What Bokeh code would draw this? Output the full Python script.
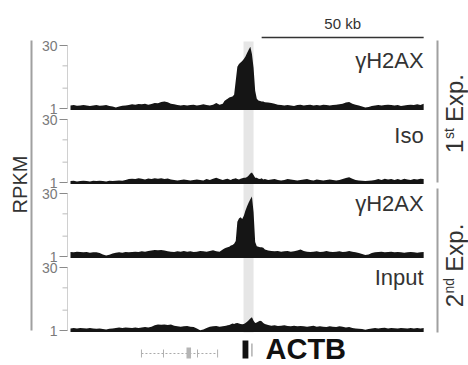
import math
import numpy as np
from bokeh.plotting import figure
from bokeh.models import Range1d, LogScale
from bokeh.core.properties import value
from bokeh.embed import file_html
from bokeh.resources import INLINE

# ---------------- data ----------------
# genomic bin positions (kb from left edge of window); finer bins around the ACTB peak
left_kb = list(range(0, 48))
peak_kb = [47.5 + 0.5 * i for i in range(26)]
right_kb = list(range(61, 110))
pos_kb = left_kb + peak_kb + right_kb

track_names = ["\u03b3H2AX", "Iso", "\u03b3H2AX", "Input"]
experiments = [("1", "st", "Exp."), ("2", "nd", "Exp.")]

# RPKM signal, exp 1 gammaH2AX
h2ax1_left = [1.18, 1.2, 1.16, 1.18, 1.2, 1.17, 1.15, 1.18, 1.2, 1.16,
              1.18, 1.2, 1.15, 1.12, 1.06, 1.12, 1.16, 1.18, 1.2, 1.25,
              1.22, 1.28, 1.25, 1.3, 1.22, 1.28, 1.35, 1.32, 1.42, 1.45,
              1.4, 1.3, 1.25, 1.2, 1.18, 1.2, 1.17, 1.2, 1.22, 1.18,
              1.2, 1.25, 1.2, 1.18, 1.22, 1.35, 1.22, 1.3]
h2ax1_peak = [1.5, 1.6, 1.7, 1.8, 1.85, 1.9, 2.1, 4.5, 9.5, 11, 12, 13, 14.5,
              16.5, 20, 24, 28, 19, 9, 2.6, 1.7, 1.55, 1.5, 1.45, 1.45, 1.4]
h2ax1_right = [1.38, 1.35, 1.3, 1.22, 1.2, 1.18, 1.2, 1.18, 1.15, 1.2,
               1.22, 1.18, 1.2, 1.22, 1.18, 1.2, 1.18, 1.22, 1.2, 1.18,
               1.2, 1.22, 1.25, 1.3, 1.38, 1.42, 1.3, 1.22, 1.18, 1.12,
               1.06, 1.08, 1.15, 1.18, 1.2, 1.18, 1.2, 1.22, 1.2, 1.18,
               1.2, 1.15, 1.18, 1.2, 1.22, 1.2, 1.25, 1.2, 1.3]

# exp 1 isotype control
iso_left = [1.08, 1.1, 1.06, 1.08, 1.1, 1.08, 1.06, 1.1, 1.08, 1.1,
            1.08, 1.06, 1.1, 1.08, 1.1, 1.12, 1.1, 1.15, 1.2, 1.22,
            1.2, 1.25, 1.22, 1.18, 1.24, 1.2, 1.26, 1.22, 1.25, 1.2,
            1.24, 1.18, 1.15, 1.12, 1.15, 1.18, 1.15, 1.12, 1.15, 1.18,
            1.15, 1.12, 1.2, 1.15, 1.22, 1.3, 1.2, 1.15]
iso_peak = [1.18, 1.2, 1.22, 1.18, 1.15, 1.2, 1.22, 1.25, 1.2, 1.18, 1.22, 1.25, 1.3,
            1.3, 1.35, 1.45, 1.62, 1.72, 1.5, 1.3, 1.3, 1.22, 1.2, 1.25, 1.18, 1.2]
iso_right = [1.15, 1.18, 1.2, 1.15, 1.12, 1.15, 1.2, 1.18, 1.15, 1.12,
             1.15, 1.18, 1.2, 1.15, 1.12, 1.18, 1.15, 1.12, 1.15, 1.18,
             1.15, 1.12, 1.15, 1.2, 1.28, 1.32, 1.22, 1.15, 1.12, 1.1,
             1.08, 1.1, 1.12, 1.15, 1.2, 1.15, 1.22, 1.18, 1.2, 1.15,
             1.2, 1.15, 1.22, 1.18, 1.15, 1.2, 1.18, 1.22, 1.2]

# exp 2 gammaH2AX
h2ax2_left = [1.28, 1.25, 1.3, 1.27, 1.25, 1.28, 1.22, 1.26, 1.25, 1.2,
              1.12, 1.06, 1.1, 1.18, 1.22, 1.25, 1.22, 1.28, 1.25, 1.27,
              1.3, 1.28, 1.32, 1.3, 1.35, 1.38, 1.42, 1.4, 1.42, 1.38,
              1.32, 1.3, 1.28, 1.32, 1.3, 1.35, 1.3, 1.32, 1.28, 1.3,
              1.35, 1.32, 1.3, 1.35, 1.4, 1.32, 1.3, 1.45]
h2ax2_peak = [1.55, 1.6, 1.65, 1.7, 1.8, 1.85, 2.0, 2.3, 6.5, 7.8, 8.3, 7.6, 9.0,
              12, 15, 18.5, 22, 25.5, 11, 2.2, 1.75, 1.7, 1.65, 1.65, 1.6, 1.45]
h2ax2_right = [1.38, 1.35, 1.32, 1.35, 1.3, 1.32, 1.35, 1.3, 1.32, 1.38,
               1.45, 1.35, 1.3, 1.28, 1.3, 1.32, 1.28, 1.3, 1.35, 1.3,
               1.28, 1.3, 1.32, 1.28, 1.3, 1.35, 1.3, 1.25, 1.2, 1.15,
               1.08, 1.12, 1.2, 1.25, 1.28, 1.3, 1.25, 1.28, 1.3, 1.26,
               1.28, 1.25, 1.22, 1.25, 1.28, 1.25, 1.22, 1.25, 1.28]

# exp 2 input
input_left = [1.12, 1.14, 1.12, 1.15, 1.13, 1.12, 1.14, 1.12, 1.1, 1.12,
              1.08, 1.06, 1.1, 1.12, 1.15, 1.17, 1.15, 1.18, 1.16, 1.15,
              1.18, 1.15, 1.17, 1.2, 1.18, 1.22, 1.32, 1.38, 1.36, 1.38,
              1.35, 1.38, 1.3, 1.25, 1.22, 1.25, 1.28, 1.22, 1.2, 1.12,
              1.02, 1.05, 1.15, 1.22, 1.25, 1.28, 1.22, 1.25]
input_peak = [1.28, 1.3, 1.32, 1.35, 1.4, 1.45, 1.42, 1.48, 1.5, 1.45, 1.42, 1.4, 1.42,
              1.5, 1.6, 1.75, 1.9, 2.05, 1.7, 1.5, 1.55, 1.62, 1.7, 1.65, 1.5, 1.42]
input_right = [1.35, 1.3, 1.32, 1.28, 1.3, 1.32, 1.28, 1.25, 1.3, 1.25,
               1.28, 1.25, 1.22, 1.25, 1.3, 1.22, 1.25, 1.22, 1.2, 1.25,
               1.22, 1.2, 1.25, 1.22, 1.18, 1.2, 1.15, 1.12, 1.1, 1.08,
               1.04, 1.08, 1.12, 1.15, 1.12, 1.14, 1.16, 1.12, 1.15, 1.13,
               1.12, 1.15, 1.13, 1.12, 1.15, 1.12, 1.14, 1.12, 1.15]

signals = [h2ax1_left + h2ax1_peak + h2ax1_right,
           iso_left + iso_peak + iso_right,
           h2ax2_left + h2ax2_peak + h2ax2_right,
           input_left + input_peak + input_right]

y_ticks = [1, 3, 10, 30]
y_tick_labels = ["1", "", "", "30"]
y_max = 30
fill_floor = 0.92

highlight_kb = (53.4, 56.5)      # shaded ACTB region
scale_bar_kb = 50
window_end_kb = 109

actb_exon_kb = (53.1, 54.9)
actb_tick_kb = 56.0
neighbor_span_kb = (21.9, 45.4)
neighbor_ticks_kb = [21.9, 28.7, 39.2, 45.4]
neighbor_box_kb = (35.8, 37.2)

# ---------------- layout ----------------
W, H = 468, 365
X0_PX = 70.0
PX_PER_KB = 3.24


def px2kb(px):
    return (px - X0_PX) / PX_PER_KB


base_px = [108, 182, 256, 330]   # screen y of RPKM = 1 for each track
track_h = 63                     # pixels from 1 to 30
label_center_px = [60, 135, 203, 277]
exp_center_px = [113, 265]
FONT = value("Liberation Sans")

p = figure(width=W, height=H,
           x_range=Range1d(px2kb(0), px2kb(W)),
           y_range=Range1d(H, 0),
           output_backend="svg", toolbar_location=None,
           x_axis_location=None, y_axis_location=None,
           min_border=0, min_border_left=0, min_border_right=0,
           min_border_top=0, min_border_bottom=0,
           outline_line_color=None, background_fill_color="white",
           border_fill_color="white")
p.xgrid.visible = False
p.ygrid.visible = False

L30 = math.log10(y_max)
ranges, scales = {}, {}
for i, b in enumerate(base_px):
    lo = 10 ** ((b - H) / track_h * L30)
    hi = 10 ** (b / track_h * L30)
    ranges[f"t{i}"] = Range1d(lo, hi)
    scales[f"t{i}"] = LogScale()
p.extra_y_ranges = ranges
p.extra_y_scales = scales

# highlighted region
p.quad(left=[highlight_kb[0]], right=[highlight_kb[1]], bottom=[332], top=[41],
       fill_color="#e6e6e6", line_color=None)

x = np.array(pos_kb, dtype=float)
for i, sig in enumerate(signals):
    rn = f"t{i}"
    p.varea(x=x, y1=np.full(len(x), fill_floor), y2=np.array(sig, dtype=float),
            fill_color="#151515", y_range_name=rn)
    # axis line
    p.segment(x0=[px2kb(67)], x1=[px2kb(67)], y0=[y_ticks[0]], y1=[y_ticks[-1]],
              line_color="#d0d0d0", line_width=1, y_range_name=rn)
    # ticks
    lab_t = [t for t, l in zip(y_ticks, y_tick_labels) if l]
    unl_t = [t for t, l in zip(y_ticks, y_tick_labels) if not l]
    p.segment(x0=[px2kb(59)] * len(lab_t), x1=[px2kb(67)] * len(lab_t), y0=lab_t, y1=lab_t,
              line_color="#8a8a8a", line_width=1, y_range_name=rn)
    p.segment(x0=[px2kb(62)] * len(unl_t), x1=[px2kb(67)] * len(unl_t), y0=unl_t, y1=unl_t,
              line_color="#bbbbbb", line_width=1, y_range_name=rn)
    p.text(x=[px2kb(57)] * len(lab_t), y=lab_t,
           text=[l for l in y_tick_labels if l],
           text_align="right", text_baseline="middle", text_font=FONT,
           text_font_size="14px", text_color="#7a7a7a", y_range_name=rn)
    # track label
    p.text(x=[window_end_kb], y=[label_center_px[i]], text=[track_names[i]],
           text_align="right", text_baseline="middle", text_font=FONT,
           text_font_size="22px", text_color="#333333")

# left RPKM bar and label
p.segment(x0=[px2kb(31)], x1=[px2kb(31)], y0=[40], y1=[330], line_color="#a0a0a0", line_width=2)
p.text(x=[px2kb(19)], y=[184], text=["RPKM"], angle=math.pi / 2,
       text_align="center", text_baseline="middle", text_font=FONT,
       text_font_size="20px", text_color="#333333")

# scale bar
p.segment(x0=[window_end_kb - scale_bar_kb], x1=[window_end_kb], y0=[37], y1=[37],
          line_color="#333333", line_width=1.5)
p.text(x=[window_end_kb - scale_bar_kb / 2], y=[22.5], text=[f"{scale_bar_kb} kb"],
       text_align="center", text_baseline="middle", text_font=FONT,
       text_font_size="15px", text_color="#333333")

# right experiment brackets
p.segment(x0=[px2kb(437)] * 2, x1=[px2kb(437)] * 2, y0=[40, 188], y1=[182, 332],
          line_color="#a0a0a0", line_width=2)
em = {"1": 0.556, "2": 0.556, "st": 0.778, "nd": 1.112, "Exp.": 2.001, " ": 0.278}
BIG, SMALL = 24, 14
for (num, sup, rest), cy in zip(experiments, exp_center_px):
    w1 = em[num] * BIG
    w2 = em[sup] * SMALL
    ws = em[" "] * BIG
    w3 = em[rest] * BIG
    y_start = cy + (w1 + w2 + ws + w3) / 2
    p.text(x=[px2kb(454)], y=[y_start], text=[num], angle=math.pi / 2,
           text_align="left", text_baseline="middle", text_font=FONT,
           text_font_size=f"{BIG}px", text_color="#333333")
    p.text(x=[px2kb(448)], y=[y_start - w1 - 0.5], text=[sup], angle=math.pi / 2,
           text_align="left", text_baseline="middle", text_font=FONT,
           text_font_size=f"{SMALL}px", text_color="#333333")
    p.text(x=[px2kb(454)], y=[y_start - w1 - w2 - ws], text=[rest], angle=math.pi / 2,
           text_align="left", text_baseline="middle", text_font=FONT,
           text_font_size=f"{BIG}px", text_color="#333333")

# gene annotation
p.segment(x0=[neighbor_span_kb[0]], x1=[neighbor_span_kb[1]], y0=[353], y1=[353],
          line_color="#aaaaaa", line_width=1, line_dash="2 2")
p.segment(x0=neighbor_ticks_kb, x1=neighbor_ticks_kb, y0=[349] * len(neighbor_ticks_kb),
          y1=[357] * len(neighbor_ticks_kb), line_color="#b0b0b0", line_width=1)
p.quad(left=[neighbor_box_kb[0]], right=[neighbor_box_kb[1]], bottom=[358], top=[347],
       fill_color="#b5b5b5", line_color=None)
p.quad(left=[actb_exon_kb[0]], right=[actb_exon_kb[1]], bottom=[358], top=[340],
       fill_color="#111111", line_color=None)
p.segment(x0=[actb_tick_kb], x1=[actb_tick_kb], y0=[343], y1=[356],
          line_color="#888888", line_width=1)
p.text(x=[px2kb(265)], y=[348.5], text=["ACTB"], text_align="left",
       text_baseline="middle", text_font=FONT, text_font_size="29px",
       text_font_style="bold", text_color="#111111")

open("out.html", "w").write(file_html(p, INLINE))
